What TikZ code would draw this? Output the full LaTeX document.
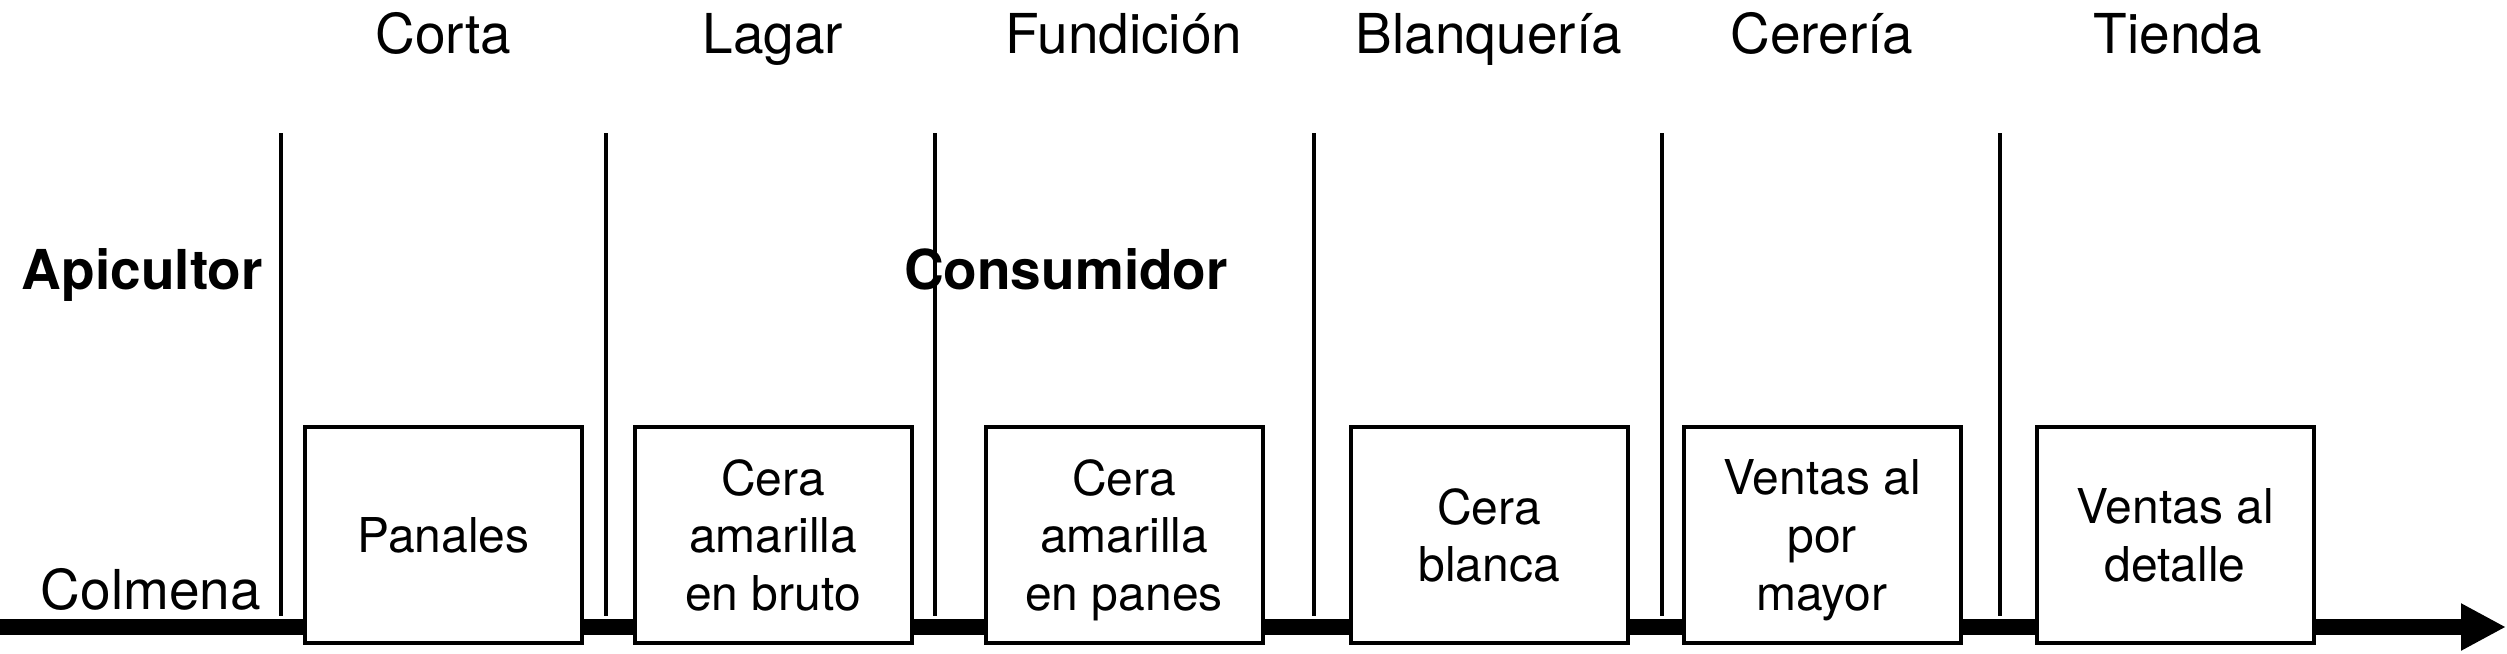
\documentclass[tikz,border=0pt]{standalone}
\usepackage{fontspec}
\setmainfont{TeX Gyre Heros}
\usetikzlibrary{arrows.meta}
\begin{document}
\begin{tikzpicture}[x=1pt,y=-1pt,
  stagebox/.style={draw,line width=4pt,fill=white,minimum width=277pt,minimum height=216pt,
    inner sep=0pt,align=center,text depth=0pt,font=\fontsize{48}{57.6}\selectfont},
  toplabel/.style={inner sep=0pt,anchor=base,font=\fontsize{55}{66}\selectfont},
  sidelabel/.style={inner sep=0pt,font=\fontsize{55}{66}\selectfont},
  divider/.style={line width=3.5pt},
  flow/.style={line width=16pt,-{Triangle[length=45pt,width=44pt]}}]
\fill[white] (0,0) rectangle (2507,653);
\useasboundingbox (0,0) rectangle (2507,653);
% main flow line
\coordinate (fs) at (0,627);
\coordinate (fe) at (2506,627);
\draw[flow] (fs) -- (fe);
% dividers
\foreach \i/\x in {1/281,2/606,3/935,4/1314,5/1662,6/2000}{
  \coordinate (t\i) at (\x,133);
  \coordinate (b\i) at (\x,616);
  \draw[divider] (t\i) -- (b\i);
}
% boxes
\node[stagebox] (p1) at (443.5,535) {Panales};
\node[stagebox] (p2) at (773,535) {Cera\\amarilla\\en bruto};
\node[stagebox] (p3) at (1124,535) {Cera\\amarilla\\en panes};
\node[stagebox] (p4) at (1489,535) {Cera\\blanca};
\node[stagebox] (p5) at (1822,535) {Ventas al\\por\\mayor};
\node[stagebox] (p6) at (2175,535) {Ventas al\\detalle};
% top labels
\node[toplabel] (l1) at (443.5,53) {Corta};
\node[toplabel] (l2) at (773,53) {Lagar};
\node[toplabel] (l3) at (1124,53) {Fundición};
\node[toplabel] (l4) at (1489,53) {Blanquería};
\node[toplabel] (l5) at (1822,53) {Cerería};
\node[toplabel] (l6) at (2178,53) {Tienda};
% side labels
\node[sidelabel,anchor=base east,font=\fontsize{55}{66}\selectfont\bfseries] (api) at (263,289) {Apicultor};
\node[sidelabel,anchor=base,font=\fontsize{55}{66}\selectfont\bfseries] (con) at (1066,289) {Consumidor};
\node[sidelabel,anchor=base east] (col) at (261,609) {Colmena};
\end{tikzpicture}
\end{document}
